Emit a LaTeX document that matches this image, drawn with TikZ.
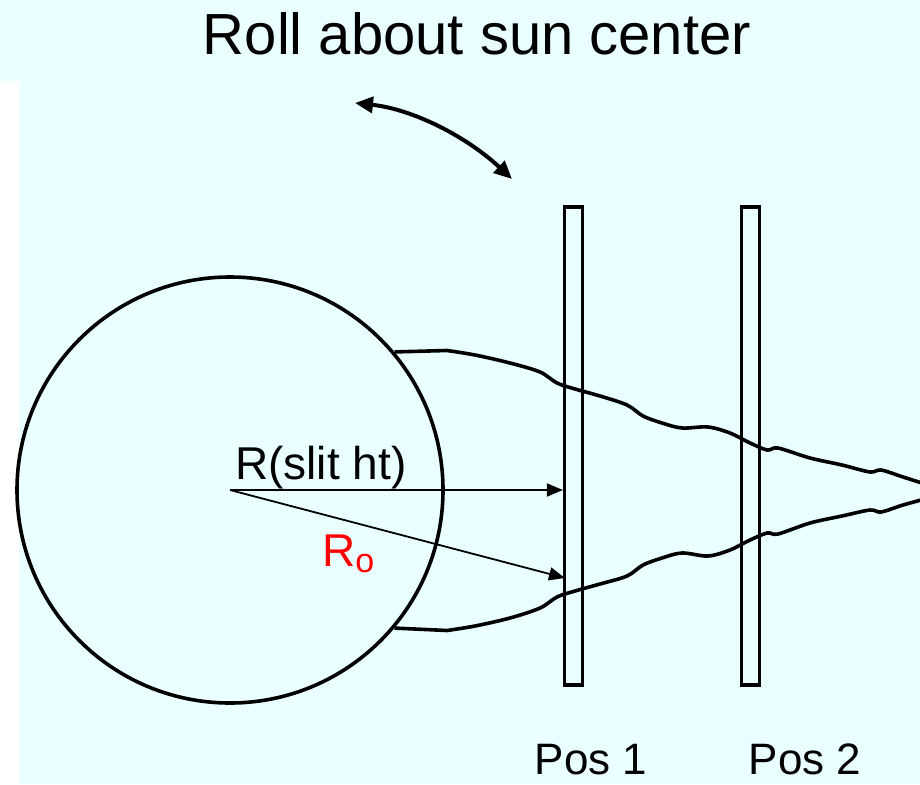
\documentclass[tikz,border=0pt]{standalone}
\usepackage{fontspec}
\setmainfont{Liberation Sans}
\usetikzlibrary{arrows.meta,calc}
\definecolor{bgcyan}{RGB}{234,255,255}
\definecolor{labred}{RGB}{255,0,0}
\tikzset{
  slitbox/.style={draw, line width=3.2pt, rectangle, minimum width=18pt, minimum height=478pt, inner sep=0pt},
  radarrow/.style={line width=1.8pt, -{Triangle[length=16pt,width=13pt]}},
  rollarrow/.style={line width=4pt, {Triangle[length=18pt,width=16pt]}-{Triangle[length=18pt,width=16pt]}},
  wave/.style={line width=3.6pt, line join=round},
  bigtext/.style={font=\fontsize{58}{62}\selectfont, inner sep=0pt},
  labtext/.style={font=\fontsize{44}{48}\selectfont, inner sep=0pt},
  rtext/.style={font=\fontsize{46}{50}\selectfont, inner sep=0pt},
}
\begin{document}
\begin{tikzpicture}[x=1pt,y=-1pt]
\useasboundingbox (0,0) rectangle (920,784);
\fill[bgcyan] (0,0) rectangle (920,784);
\fill[white] (0,81) rectangle (19,784);

% title
\node[bigtext, anchor=base] (title) at (477,55) {Roll about sun center};

% roll arrow
\coordinate (rollA) at (355,103);
\coordinate (rollB) at (512,179);
\draw[rollarrow] (rollA) .. controls (412,109) and (466,136) .. (rollB);

% sun
\node[circle, draw, line width=3.6pt, minimum size=426pt, inner sep=0pt] (sun) at (230,490) {};

% slits
\node[slitbox] (slit1) at (573.5,446) {};
\node[slitbox] (slit2) at (750.5,446) {};

% wavy beam edges
\draw[wave] (sun.40.6) -- (447,350.5) -- plot[smooth, tension=0.55] coordinates {
 (447,350.5) (475,355) (510,363) (540,372) (557,383) (575,389) (600,396) (627,405) (643,416) (662,423) (682,428) (708,427) (730,433) (748,442) (767,450) (778,448) (810,458) (842,465) (870,472) (881,470) (903,477) (925,484)};
\draw[wave] (sun.-40.6) -- (447,630.5) -- plot[smooth, tension=0.55] coordinates {
 (447,630.5) (475,626) (510,618) (540,608) (557,597) (575,591) (600,584) (627,576) (643,565) (662,558) (682,553) (708,556) (730,550) (748,541) (767,533) (778,534) (810,523) (842,516) (870,510) (881,512) (903,505) (925,499)};

% radius arrows
\coordinate (r0end) at (565,578);
\draw[radarrow] (sun.center) -- (sun.center -| slit1.west);
\draw[radarrow] (sun.center) -- (r0end);

% labels
\node[rtext, anchor=base west] (rslit) at (235,479) {R(slit ht)};
\node[rtext, anchor=base west, text=labred] (ro) at (322,566) {R\raisebox{-0.28ex}{\fontsize{34}{36}\selectfont o}};

\node[labtext, anchor=base] (pos1) at (591,774) {Pos 1};
\node[labtext, anchor=base] (pos2) at (805,774) {Pos 2};
\end{tikzpicture}
\end{document}
